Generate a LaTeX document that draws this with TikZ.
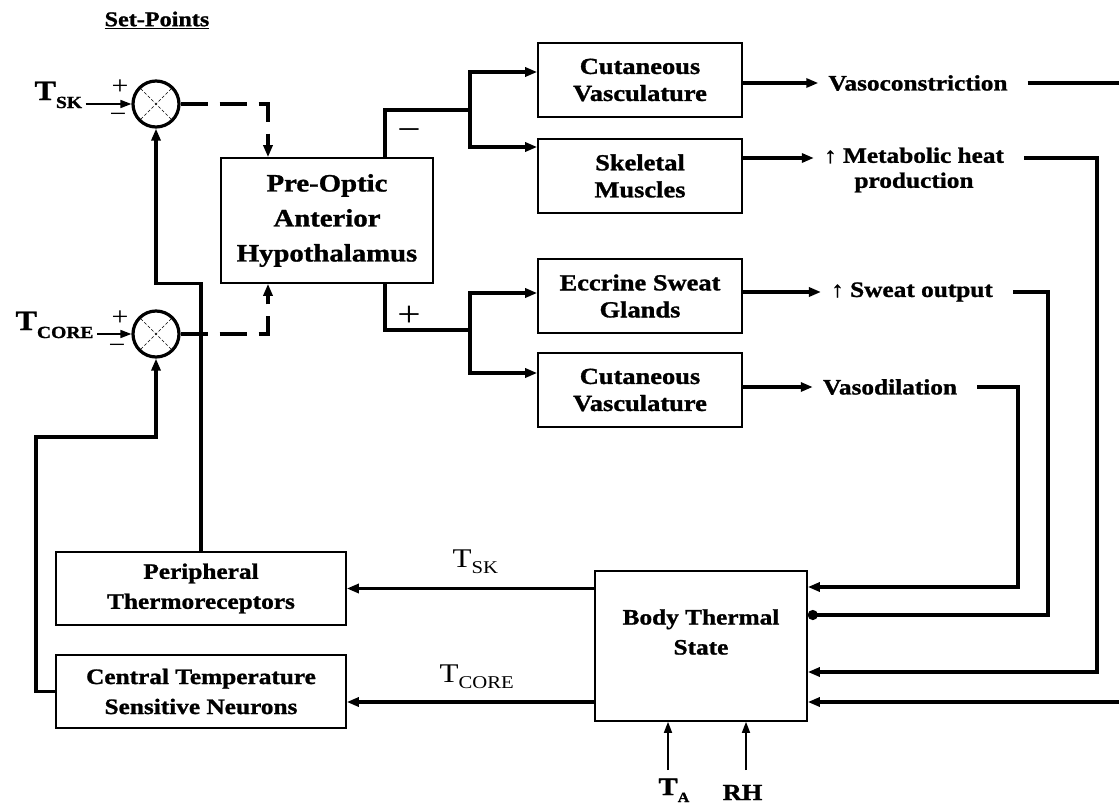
\documentclass[tikz,border=0pt]{standalone}
\usepackage{fontspec}
\setmainfont{Liberation Serif}[FakeStretch=1.15, BoldFeatures={FakeBold=1.2}]
\usetikzlibrary{arrows.meta}
% T with a lowered index: sizes of T and index, drop, index text
\newcommand{\tsub}[4]{{\fontsize{#1}{#1}\selectfont T}{\fontsize{#2}{#2}\selectfont\raisebox{-#3}{#4}}}
\tikzset{
  % boxes of the control loop
  blockbox/.style={draw, line width=1.6pt, minimum width=204pt, minimum height=74pt,
    inner sep=0pt, align=center, font=\bfseries\fontsize{23}{27}\selectfont},
  % summing junction with its cross
  sumjunction/.style={circle, draw, line width=3.2pt, minimum size=46pt, inner sep=0pt},
  crossline/.style={line width=0.6pt, densely dashed, shorten <=3pt, shorten >=3pt},
  % thick signal lines and thin input lines
  sigline/.style={line width=3.2pt, >={Triangle[length=12pt,width=9pt]}},
  thinsig/.style={line width=1.6pt, >={Triangle[length=11pt,width=8pt]}},
  dashsig/.style={dash pattern=on 27pt off 12pt},
  outtext/.style={font=\bfseries\fontsize{22}{25}\selectfont, inner xsep=10pt, align=center},
  signtext/.style={font=\fontsize{26}{26}\selectfont, inner sep=0pt},
  branchsign/.style={font=\fontsize{36}{36}\selectfont, inner sep=0pt},
}

\begin{document}
\begin{tikzpicture}[x=1pt,y=-1pt]
\useasboundingbox (0,0) rectangle (1119,803);

% set-points and comparators
\node[font=\bfseries\fontsize{21}{23}\selectfont] (setpts) at (157,20) {\underline{Set-Points}};
\node[sumjunction] (sumsk) at (156,104) {};
\node[sumjunction] (sumcore) at (156,334) {};
\foreach \s in {sumsk,sumcore}{
  \draw[crossline] (\s.north east) -- (\s.south west);
  \draw[crossline] (\s.north west) -- (\s.south east);
}
\node[anchor=base west,font=\bfseries] (tskin) at (31,100) {\tsub{28}{17}{8pt}{SK}};
\node[anchor=base west,font=\bfseries] (tcorein) at (12,330) {\tsub{28}{17}{8pt}{CORE}};
\node[signtext] (plsk) at (120,87) {+};
\node[signtext] (mnsk) at (118,118) {−};
\node[signtext] (plcore) at (120,318) {+};
\node[signtext] (mncore) at (117,349) {−};
\draw[thinsig,->] (tskin.east |- sumsk.west) -- (sumsk.west);
\draw[thinsig,->] (tcorein.east |- sumcore.west) -- (sumcore.west);

% hypothalamus and effectors
\node[blockbox, minimum width=212pt, minimum height=125pt,
  font=\bfseries\fontsize{25}{35}\selectfont] (poah) at (327,220.5) {Pre-Optic\\Anterior\\Hypothalamus};
\node[blockbox] (cutvc) at (640,80) {Cutaneous\\Vasculature};
\node[blockbox] (skm) at (640,176) {Skeletal\\Muscles};
\node[blockbox] (esg) at (640,296) {Eccrine Sweat\\Glands};
\node[blockbox] (cutvd) at (640,390) {Cutaneous\\Vasculature};

\draw[sigline,dashsig,->] (sumsk.east) -| (poah.north -| 268,0);
\draw[sigline,dashsig,->] (sumcore.east) -| (poah.south -| 268,0);

% minus branch
\coordinate (brm) at (470,110);
\draw[sigline] (poah.north -| 385,0) |- (brm);
\draw[sigline,->] (brm) |- (cutvc.west |- 0,72);
\draw[sigline,->] (brm) |- (skm.west |- 0,147);
\node[branchsign] (mnbr) at (409,135) {−};
% plus branch
\coordinate (brp) at (470,330);
\draw[sigline] (poah.south -| 385,0) |- (brp);
\draw[sigline,->] (brp) |- (esg.west |- 0,293);
\draw[sigline,->] (brp) |- (cutvd.west |- 0,373);
\node[branchsign] (plbr) at (409,316) {+};

% responses
\node[outtext] (vcon) at (918,83) {Vasoconstriction};
\node[outtext] (mheat) at (914,170) {↑ Metabolic heat\\production};
\node[outtext] (swout) at (912,292) {↑ Sweat output};
\node[outtext] (vdil) at (890,387) {Vasodilation};
\draw[sigline,->] (cutvc.east |- vcon.west) -- (vcon.west);
\draw[sigline,->] (skm.east |- 0,158) -- (mheat.west |- 0,158);
\draw[sigline,->] (esg.east |- swout.west) -- (swout.west);
\draw[sigline,->] (cutvd.east |- vdil.west) -- (vdil.west);

% body and sensors
\node[blockbox, minimum width=212pt, minimum height=150pt] (bts) at (701,646) {};
\node[align=center, font=\bfseries\fontsize{22}{30}\selectfont] (btstext) at (701,632) {Body Thermal\\State};
\node[blockbox, minimum width=290pt, minimum height=73pt,
  font=\bfseries\fontsize{22}{30}\selectfont] (perth) at (201,588.5) {Peripheral\\Thermoreceptors};
\node[blockbox, minimum width=290pt, minimum height=73pt,
  font=\bfseries\fontsize{22}{30}\selectfont] (ctsn) at (201,691.5) {Central Temperature\\Sensitive Neurons};

\draw[sigline,->,shorten <=10pt] (vcon.east) -- (1121,83) |- (bts.east |- 0,702);
\draw[sigline,->,shorten <=10pt] (mheat.east |- 0,158) -| (1097,672) -- (bts.east |- 0,672);
\draw[sigline,-{Circle[length=10pt]},shorten <=10pt] (swout.east) -| (1048,615) -- (bts.east |- 0,615);
\draw[sigline,->,shorten <=10pt] (vdil.east) -| (1018,587) -- (bts.east |- 0,587);

\draw[sigline,->] (bts.west |- perth.east) -- (perth.east);
\draw[sigline,->] (bts.west |- 0,702) -- (ctsn.east |- 0,702);
\node[anchor=base west] (tsklbl) at (449,567) {\tsub{27}{18}{6pt}{SK}};
\node[anchor=base west] (tcorelbl) at (436,682) {\tsub{27}{18}{6pt}{CORE}};

% feedback to the comparators
\draw[sigline,->] (perth.north) -- (perth.north |- poah.south) -| (sumsk.south);
\draw[sigline,->] (ctsn.west) -| (36,437) -| (sumcore.south);

% ambient inputs
\coordinate (taIn) at (668,770);
\coordinate (rhIn) at (746,770);
\draw[thinsig,->] (taIn) -- (taIn |- bts.south);
\draw[thinsig,->] (rhIn) -- (rhIn |- bts.south);
\node[anchor=base west,font=\bfseries] (talbl) at (655,795) {\tsub{25}{14}{7pt}{A}};
\node[anchor=base,font=\bfseries\fontsize{23}{23}\selectfont] (rhlbl) at (742.5,800) {RH};
\end{tikzpicture}
\end{document}
